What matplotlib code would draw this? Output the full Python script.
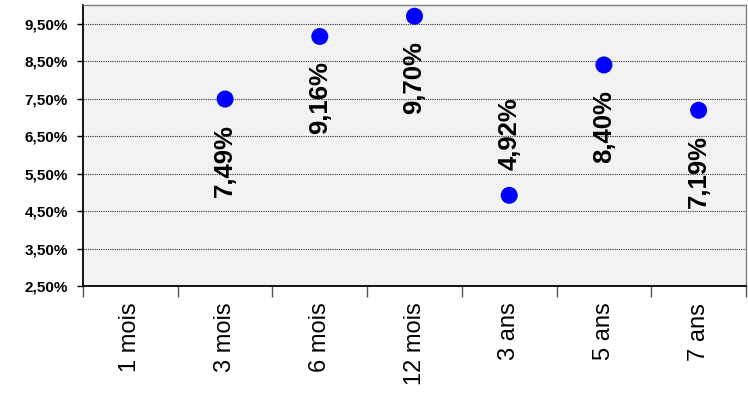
import numpy as np
import matplotlib.pyplot as plt
from matplotlib.ticker import FixedLocator

plt.rcParams['font.family'] = ['Liberation Sans', 'DejaVu Sans']

categories = ["1 mois", "3 mois", "6 mois", "12 mois", "3 ans", "5 ans", "7 ans"]
rates = [np.nan, 7.49, 9.16, 9.70, 4.92, 8.40, 7.19]
label_side = [None, "below", "below", "below", "above", "below", "below"]
y_ticks = [2.5, 3.5, 4.5, 5.5, 6.5, 7.5, 8.5, 9.5]

fig = plt.figure(figsize=(7.48, 4.03), dpi=100)
ax = fig.add_axes([0.111, 0.2903, 0.8863, 0.6973])
ax.set_facecolor("#F2F2F2")

x = np.arange(len(categories)) + 0.5
ax.scatter(x, rates, s=150, color="#0000FF", zorder=3, edgecolors="none")

for xi, v, side in zip(x, rates, label_side):
    if np.isnan(v):
        continue
    txt = f"{v:.2f}%".replace(".", ",")
    if side == "below":
        ax.annotate(txt, (xi, v), xytext=(0, -18), textcoords="offset points",
                    rotation=90, ha="center", va="top", fontsize=18.5,
                    fontweight="bold", zorder=4)
    else:
        ax.annotate(txt, (xi, v), xytext=(0, 18), textcoords="offset points",
                    rotation=90, ha="center", va="bottom", fontsize=18.5,
                    fontweight="bold", zorder=4)

ax.set_xlim(0, len(categories))
ax.set_ylim(2.5, 10.0)

# y axis
ax.set_yticks(y_ticks)
ax.set_yticklabels([f"{t:.2f}%".replace(".", ",") for t in y_ticks],
                   fontsize=11, fontweight="bold")
ax.tick_params(axis="y", length=4, width=1, pad=7, direction="out")
ax.yaxis.grid(True, color="#333333", linestyle=(0, (1, 1)), linewidth=0.8)
ax.set_axisbelow(True)

# x axis: ticks between categories, labels at centres
ax.xaxis.set_major_locator(FixedLocator(np.arange(len(categories) + 1)))
ax.set_xticklabels([])
ax.xaxis.set_minor_locator(FixedLocator(x))
ax.set_xticklabels(categories, minor=True, rotation=90, fontsize=17,
                   va="top", ha="center")
ax.tick_params(axis="x", which="major", length=8, width=1, color="#555555")
ax.tick_params(axis="x", which="minor", length=0, pad=12)

for side in ["left", "bottom"]:
    ax.spines[side].set_color("black")
    ax.spines[side].set_linewidth(1.3)
for side in ["top", "right"]:
    ax.spines[side].set_color("#808080")
    ax.spines[side].set_linewidth(1)

fig.savefig("out.png", dpi=100)
